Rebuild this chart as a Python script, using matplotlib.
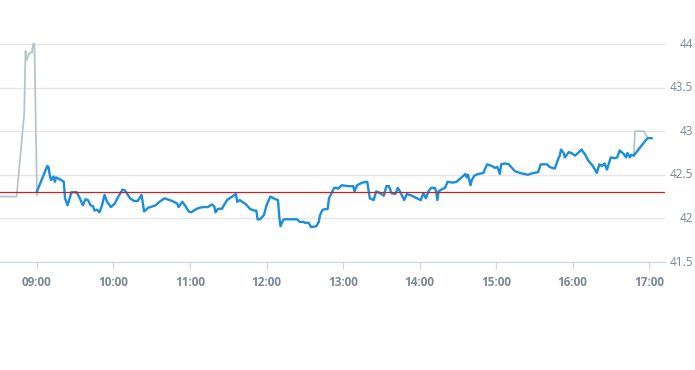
import matplotlib as mpl
import matplotlib.pyplot as plt
import matplotlib.dates as mdates
import matplotlib.transforms as mtransforms
import pandas as pd

# minutes after 09:00 and price, regular session (blue)
session_min = [0, 3, 8, 9, 10, 11, 13, 14, 15, 19, 21, 22, 23, 24, 26, 27, 31, 33, 36, 38,
               40, 42, 44, 45, 47, 49, 51, 53, 55, 58, 61, 63, 67, 69, 73, 76, 79, 82, 84, 87,
               93, 96, 100, 106, 110, 111, 114, 116, 119, 121, 124, 127, 130, 134, 137, 139, 140, 142, 145, 149,
               153, 156, 157, 159, 164, 167, 170, 172, 173, 175, 178, 180, 183, 187, 189, 190, 191, 193, 194, 204,
               206, 209, 210, 213, 215, 219, 221, 222, 224, 228, 229, 231, 233, 235, 236, 239, 244, 248, 249, 251,
               255, 259, 261, 264, 266, 269, 272, 274, 276, 278, 281, 283, 285, 288, 290, 294, 298, 301, 303, 305,
               307, 309, 312, 313, 314, 315, 317, 320, 322, 326, 329, 333, 336, 337, 338, 340, 341, 343, 346, 350,
               353, 357, 359, 361, 363, 364, 367, 370, 373, 375, 379, 385, 389, 393, 395, 400, 402, 406, 409, 410,
               411, 413, 414, 417, 419, 422, 425, 427, 430, 432, 436, 439, 441, 443, 445, 447, 450, 453, 455, 457,
               460, 462, 463, 465, 466, 468, 477, 479, 482]
session_px = [42.31, 42.42, 42.60, 42.59, 42.50, 42.44, 42.48, 42.42, 42.47, 42.44, 42.42, 42.23, 42.19, 42.15, 42.25, 42.30, 42.30, 42.25, 42.15, 42.22,
              42.21, 42.15, 42.14, 42.09, 42.10, 42.07, 42.15, 42.27, 42.19, 42.13, 42.17, 42.23, 42.33, 42.32, 42.23, 42.20, 42.20, 42.27, 42.08, 42.12,
              42.15, 42.19, 42.23, 42.20, 42.17, 42.13, 42.19, 42.15, 42.08, 42.07, 42.10, 42.12, 42.13, 42.13, 42.16, 42.14, 42.07, 42.11, 42.11, 42.21,
              42.25, 42.28, 42.19, 42.21, 42.16, 42.11, 42.09, 42.09, 41.99, 41.99, 42.04, 42.15, 42.25, 42.22, 42.21, 42.02, 41.91, 41.98, 41.99, 41.99,
              41.96, 41.96, 41.95, 41.95, 41.90, 41.91, 41.96, 42.04, 42.10, 42.11, 42.23, 42.29, 42.35, 42.35, 42.34, 42.38, 42.37, 42.37, 42.31, 42.38,
              42.41, 42.42, 42.23, 42.21, 42.31, 42.29, 42.26, 42.37, 42.37, 42.29, 42.28, 42.35, 42.30, 42.21, 42.28, 42.26, 42.23, 42.21, 42.29, 42.23,
              42.31, 42.35, 42.35, 42.31, 42.21, 42.31, 42.33, 42.35, 42.42, 42.41, 42.42, 42.47, 42.51, 42.47, 42.50, 42.38, 42.44, 42.49, 42.51, 42.52,
              42.62, 42.60, 42.58, 42.59, 42.51, 42.62, 42.63, 42.62, 42.57, 42.54, 42.52, 42.50, 42.52, 42.53, 42.62, 42.62, 42.59, 42.57, 42.69, 42.72,
              42.79, 42.75, 42.70, 42.76, 42.75, 42.72, 42.76, 42.79, 42.73, 42.67, 42.60, 42.52, 42.62, 42.60, 42.63, 42.56, 42.70, 42.69, 42.70, 42.78,
              42.74, 42.70, 42.75, 42.70, 42.73, 42.72, 42.89, 42.92, 42.92]

# extended hours (grey)
pre_min = [-31, -16, -10, -9, -8, -6, -4, -3, -2, 0]
pre_px = [42.25, 42.25, 43.20, 43.92, 43.82, 43.90, 43.90, 44.00, 44.00, 42.27]
post_min = [468, 469, 476, 479]
post_px = [42.72, 43.00, 43.00, 42.92]

prev_close = 42.30
y_ticks = [41.5, 42, 42.5, 43, 43.5, 44]
y_labels = ["41.5", "42", "42.5", "43", "43.5", "44"]

base = pd.Timestamp("2024-01-02 09:00")


def to_time(mins):
    return [base + pd.Timedelta(minutes=m) for m in mins]


mpl.rcParams.update({"font.family": ["Open Sans", "DejaVu Sans"]})
label_color = "#7b8896"

fig = plt.figure(figsize=(6.95, 3.70), dpi=100)
ax = fig.add_axes([0.0, 1 - 262 / 370, 665 / 695, (262 - 44) / 370])

ax.plot(to_time(pre_min), pre_px, color="#b8c4cc", lw=1.3, clip_on=False, zorder=2)
ax.plot(to_time(post_min), post_px, color="#b8c4cc", lw=1.3, clip_on=False, zorder=2)
ax.plot(to_time(session_min), session_px, color="#1a8edb", lw=1.7, zorder=3)
ax.axhline(prev_close, color="#cc2222", lw=0.9, zorder=4)

ax.set_ylim(41.5, 44.0)
ax.set_xlim(base + pd.Timedelta(minutes=-29), base + pd.Timedelta(minutes=492.5))

# y labels sit right-aligned at the figure's right edge
ax.set_yticks(y_ticks)
ax.tick_params(axis="y", length=0, labelleft=False, labelright=False)
trans = mtransforms.blended_transform_factory(fig.transFigure, ax.transData)
for v, s in zip(y_ticks, y_labels):
    ax.text(693 / 695, v, s, transform=trans, ha="right", va="center",
            fontsize=8.5, color=label_color, clip_on=False)
ax.grid(axis="y", color="#e6e6e6", lw=1)

ax.set_xticks(to_time(range(0, 481, 60)))
ax.xaxis.set_major_formatter(mdates.DateFormatter("%H:%M"))
ax.tick_params(axis="x", length=5, color="#ccd6eb", pad=5, labelsize=8.5, labelcolor=label_color)
for lbl in ax.get_xticklabels():
    lbl.set_fontweight("bold")

for side in ["top", "left", "right"]:
    ax.spines[side].set_visible(False)
ax.spines["bottom"].set_color("#ccd6eb")
ax.set_axisbelow(True)

fig.savefig("out.png", dpi=100)
